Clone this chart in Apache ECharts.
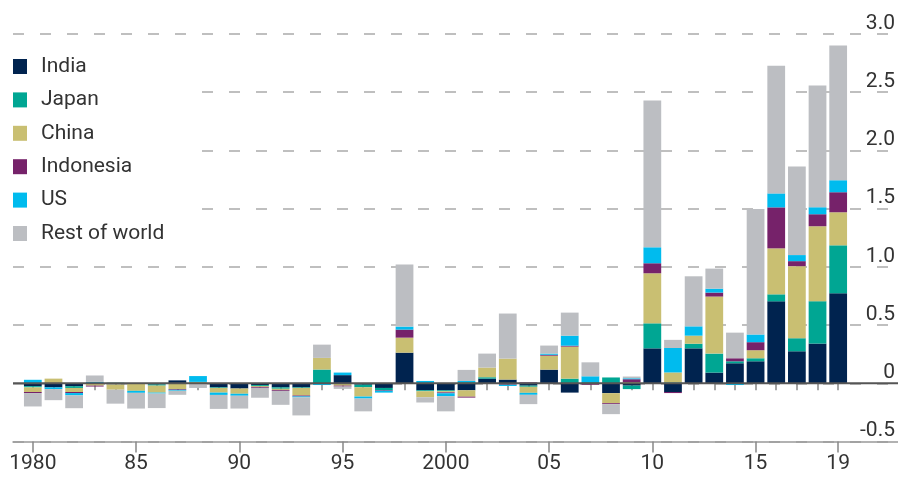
<!DOCTYPE html>
<html>
<head>
<meta charset="utf-8">
<script src="https://cdn.jsdelivr.net/npm/echarts@6/dist/echarts.min.js"></script>
<style>
  html, body { margin: 0; padding: 0; background: #fff; }
  #chart { width: 898px; height: 479px; }
</style>
</head>
<body>
<div id="chart"></div>
<script>
var years = ['1980','1981','1982','1983','1984','1985','1986','1987','1988','1989',
             '1990','1991','1992','1993','1994','1995','1996','1997','1998','1999',
             '2000','2001','2002','2003','2004','2005','2006','2007','2008','2009',
             '2010','2011','2012','2013','2014','2015','2016','2017','2018','2019'];
var majorIdx = [0, 5, 10, 15, 20, 25, 30, 35, 39];
var majorLabels = ['1980', '85', '90', '95', '2000', '05', '10', '15', '19'];

var india = [-0.025,-0.035,-0.025,0,-0.01,0,-0.01,0.025,0,-0.035,
             -0.045,-0.015,-0.035,-0.035,-0.005,0.07,-0.012,-0.04,0.263,-0.06,
             -0.06,-0.06,0.04,0.032,-0.02,0.117,-0.08,0,-0.085,-0.02,
             0.30,-0.075,0.30,0.092,0.172,0.189,0.704,0.275,0.341,0.773];
var japan = [-0.01,0,-0.015,-0.005,0.005,0,-0.01,0,0,-0.005,
             0,-0.008,-0.012,-0.005,0.118,0,-0.022,-0.02,0,-0.008,
             -0.008,0.01,0.012,-0.008,-0.01,0,0.04,0.01,0.05,-0.03,
             0.215,0.008,0.04,0.163,0.017,0.026,0.06,0.112,0.364,0.412];
var china = [-0.04,0.04,-0.035,-0.015,-0.045,-0.065,-0.06,-0.05,0.012,-0.04,
             -0.045,-0.008,-0.01,-0.065,0.10,-0.02,-0.08,0,0.129,-0.052,
             -0.01,-0.055,0.083,0.18,-0.052,0.12,0.275,-0.005,-0.086,0.01,
             0.43,0.085,0.069,0.49,0,0.069,0.395,0.619,0.644,0.284];
var indonesia = [-0.009,0,-0.009,-0.008,0,0,0,-0.006,0,0,
                 0,-0.008,-0.008,-0.008,0,-0.008,0,-0.005,0.069,0,
                 -0.008,-0.008,0,-0.005,0.008,0.008,0.008,-0.008,-0.008,0.025,
                 0.086,-0.009,0,0.034,0.026,0.069,0.352,0.043,0.103,0.172];
var us = [0.03,-0.015,-0.02,0.012,0,-0.017,-0.008,-0.008,0.05,-0.02,
          -0.017,0,0,-0.008,-0.01,0.022,-0.017,-0.015,0.026,0.02,
          -0.025,0.01,-0.005,-0.01,-0.017,0.01,0.086,0.05,0,0.008,
          0.137,0.21,0.08,0.034,-0.015,0.066,0.12,0.052,0.06,0.103];
var rest = [-0.115,-0.095,-0.11,0.055,-0.12,-0.135,-0.125,-0.035,-0.04,-0.12,
            -0.11,-0.085,-0.12,-0.155,0.114,-0.02,-0.11,0,0.533,-0.045,
            -0.13,0.095,0.12,0.387,-0.08,0.069,0.198,0.12,-0.086,0.015,
            1.26,0.07,0.43,0.172,0.22,1.077,1.097,0.762,1.045,1.157];

var names = ['India', 'Japan', 'China', 'Indonesia', 'US', 'Rest of world'];
var colors = ['#00234f', '#00a693', '#c9bf72', '#76226a', '#00bbee', '#bcbec2'];
var values = [india, japan, china, indonesia, us, rest];

var font = 'Roboto';
var chart = echarts.init(document.getElementById('chart'));

var series = [];
for (var i = 0; i < names.length; i++) {
  series.push({
    name: names[i],
    type: 'bar',
    stack: 'total',
    xAxisIndex: 1,
    yAxisIndex: 1,
    barCategoryGap: '14%',
    itemStyle: { color: colors[i] },
    data: values[i]
  });
}
// zero line across the whole plot
series.push({
  type: 'line',
  xAxisIndex: 0,
  yAxisIndex: 0,
  data: [[0, 0], [1, 0]],
  symbol: 'none',
  silent: true,
  z: 5,
  lineStyle: { color: '#555', width: 2 }
});

var option = {
  animation: false,
  backgroundColor: '#fff',
  color: colors,
  legend: {
    data: names,
    orient: 'vertical',
    left: 13,
    top: 50,
    icon: 'rect',
    itemWidth: 14,
    itemHeight: 15,
    itemGap: 12.4,
    padding: [6, 29, 6, 0],
    backgroundColor: '#fff',
    selectedMode: false,
    textStyle: { fontFamily: font, fontSize: 21, color: '#333', padding: [0, 0, 0, 9] }
  },
  grid: [
    { left: 13, right: 0, top: 34, bottom: 37.5 },
    { left: 22.5, right: 49.5, top: 34, bottom: 37.5 }
  ],
  xAxis: [
    {
      gridIndex: 0, type: 'value', min: 0, max: 1,
      axisLine: { show: true, onZero: false, lineStyle: { color: '#999', width: 1.5 } },
      axisTick: { show: false }, axisLabel: { show: false }, splitLine: { show: false }
    },
    {
      gridIndex: 1, type: 'category', data: years, position: 'bottom',
      axisLine: { show: false },
      axisTick: { show: true, alignWithLabel: true, interval: 0, length: 7,
                  lineStyle: { color: '#888', width: 1.5 } },
      axisLabel: { show: false }
    },
    {
      gridIndex: 1, type: 'category', data: years, position: 'bottom',
      axisLine: { show: false },
      axisTick: { show: true, alignWithLabel: true, length: 11,
                  interval: function (idx) { return majorIdx.indexOf(idx) >= 0; },
                  lineStyle: { color: '#888', width: 1.5 } },
      axisLabel: {
        show: true, margin: 12,
        interval: function (idx) { return majorIdx.indexOf(idx) >= 0; },
        formatter: function (v, idx) { return majorLabels[majorIdx.indexOf(idx)]; },
        fontFamily: font, fontSize: 21, color: '#333'
      }
    }
  ],
  yAxis: [
    {
      gridIndex: 0, type: 'value', min: -0.5, max: 3, interval: 0.5, position: 'right',
      axisLine: { show: false }, axisTick: { show: false },
      splitLine: { show: true, lineStyle: { color: '#aaa', width: 1.5, type: [11, 16] } },
      axisLabel: {
        inside: true, margin: 3, verticalAlign: 'bottom',
        fontFamily: font, fontSize: 21, color: '#333',
        formatter: function (v) { return v === 0 ? '0' : v.toFixed(1); }
      }
    },
    {
      gridIndex: 1, type: 'value', min: -0.5, max: 3, interval: 0.5, show: false
    }
  ],
  series: series
};

chart.setOption(option);
</script>
</body>
</html>
